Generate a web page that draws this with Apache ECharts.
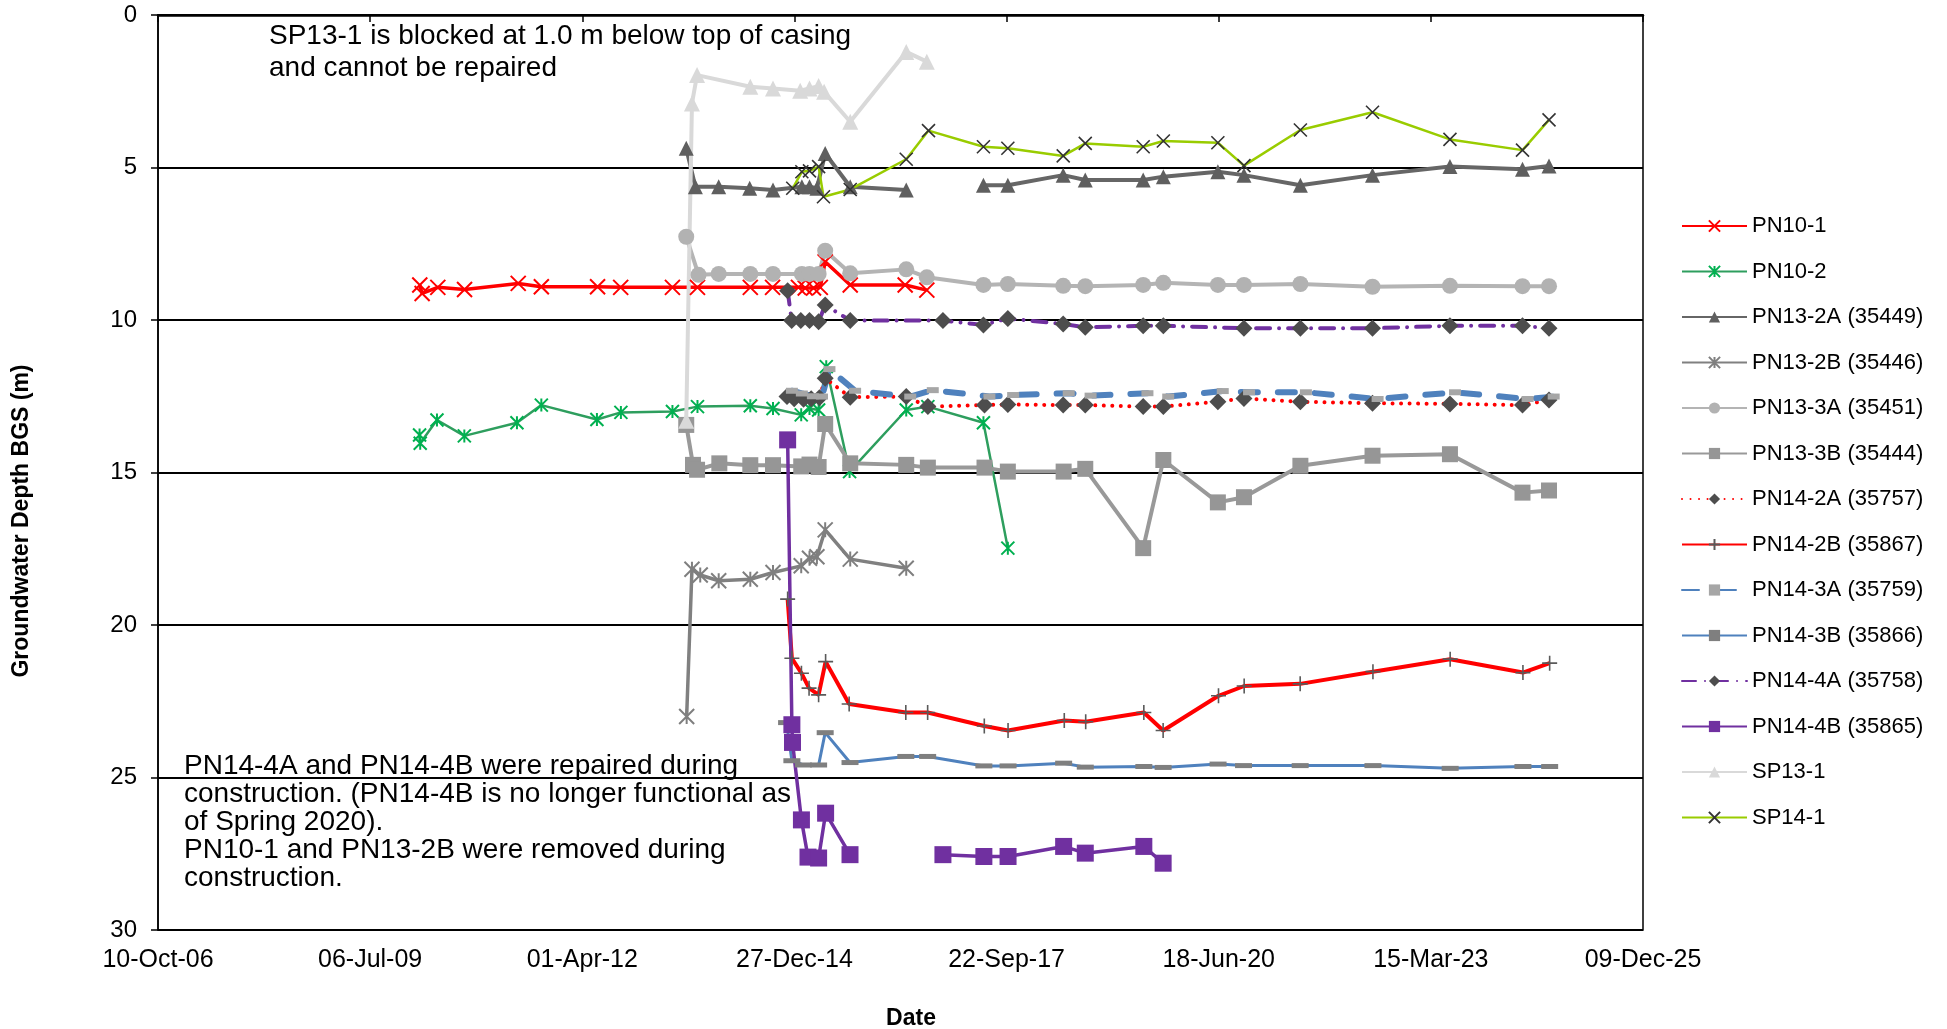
<!DOCTYPE html>
<html><head><meta charset="utf-8">
<script src="https://cdn.jsdelivr.net/npm/echarts@6/dist/echarts.min.js"></script>
<style>html,body{margin:0;padding:0;background:#fff}#c{width:1947px;height:1029px}</style>
</head><body><div id="c"></div>
<script>
// Dates are Excel day serials (days since 30-Dec-1899); depths in m below ground surface
const xTickMin = 39000, xTickMax = 46000, xTickStep = 1000;
const yTickMin = 0, yTickMax = 30, yTickStep = 5;

const pn10_1_dates = [40234, 40245, 40319, 40445, 40698, 40807, 41072, 41181, 41425, 41543, 41792, 41897, 42019, 42051, 42090, 42122, 42145, 42263, 42522, 42624];
const pn10_1_depth = [8.85, 9.13, 8.93, 9.0, 8.80, 8.91, 8.91, 8.93, 8.93, 8.93, 8.93, 8.93, 8.93, 8.95, 8.95, 8.93, 8.09, 8.85, 8.85, 9.02];

const pn10_2_dates = [40233, 40236, 40315, 40444, 40692, 40807, 41069, 41182, 41425, 41543, 41792, 41899, 42032, 42071, 42114, 42150, 42260, 42527, 42629, 42891, 43006];
const pn10_2_depth = [13.77, 14.04, 13.28, 13.80, 13.37, 12.79, 13.26, 13.03, 13.00, 12.84, 12.81, 12.90, 13.11, 12.90, 12.95, 11.53, 14.97, 12.95, 12.84, 13.37, 17.48];

const pn13_2a_dates = [41490, 41533, 41643, 41789, 41899, 42035, 42071, 42106, 42145, 42263, 42527, 42629, 42891, 43006, 43267, 43371, 43644, 43739, 43996, 44119, 44385, 44725, 45090, 45432, 45557];
const pn13_2a_depth = [4.37, 5.63, 5.63, 5.68, 5.74, 5.63, 5.63, 5.68, 4.54, 5.63, 5.74, null, 5.58, 5.58, 5.25, 5.41, 5.41, 5.30, 5.14, 5.25, 5.58, 5.25, 4.97, 5.06, 4.95];

const pn13_2b_dates = [41492, 41517, 41556, 41643, 41792, 41899, 42032, 42071, 42106, 42145, 42263, 42527];
const pn13_2b_depth = [23.0, 18.17, 18.36, 18.55, 18.50, 18.28, 18.06, 17.81, 17.76, 16.88, 17.84, 18.14];

const pn13_3a_dates = [41490, 41548, 41643, 41792, 41899, 42035, 42071, 42114, 42145, 42263, 42527, 42624, 42891, 43006, 43267, 43371, 43644, 43739, 43996, 44119, 44385, 44725, 45090, 45432, 45557];
const pn13_3a_depth = [7.27, 8.52, 8.49, 8.49, 8.49, 8.49, 8.49, 8.49, 7.73, 8.47, 8.34, 8.60, 8.85, 8.82, 8.88, 8.89, 8.85, 8.78, 8.85, 8.85, 8.82, 8.91, 8.88, 8.89, 8.89];

const pn13_3b_dates = [41490, 41522, 41541, 41646, 41792, 41899, 42032, 42071, 42114, 42145, 42263, 42527, 42629, 42896, 43006, 43269, 43371, 43644, 43739, 43996, 44119, 44385, 44725, 45090, 45432, 45557];
const pn13_3b_depth = [13.44, 14.75, 14.91, 14.70, 14.76, 14.76, 14.80, 14.74, 14.82, 13.41, 14.70, 14.75, 14.84, 14.84, 14.97, 14.97, 14.88, 17.48, 14.59, 15.98, 15.81, 14.78, 14.45, 14.40, 15.66, 15.59];

const pn14_2a_dates = [41965, 41999, 42043, 42079, 42118, 42145, 42263, 42527, 42629, 42896, 43006, 43267, 43371, 43644, 43739, 43996, 44119, 44385, 44725, 45090, 45432, 45557];
const pn14_2a_depth = [12.51, 12.58, 12.60, 12.58, 12.55, 11.91, 12.53, 12.51, 12.84, 12.79, 12.77, 12.79, 12.79, 12.84, 12.84, 12.68, 12.57, 12.68, 12.73, 12.75, 12.79, 12.62];

const pn14_2b_dates = [41968, 41988, 42033, 42069, 42114, 42147, 42258, 42525, 42628, 42895, 43007, 43272, 43373, 43647, 43738, 43999, 44120, 44384, 44727, 45091, 45434, 45560];
const pn14_2b_depth = [19.15, 21.09, 21.58, 22.07, 22.29, 21.20, 22.59, 22.87, 22.87, 23.31, 23.46, 23.13, 23.17, 22.87, 23.46, 22.32, 22.00, 21.93, 21.53, 21.12, 21.56, 21.25];

const pn14_3a_dates = [41988, 42035, 42087, 42130, 42165, 42286, 42546, 42652, 42919, 43031, 43293, 43396, 43664, 43762, 44019, 44143, 44411, 44749, 45114, 45456, 45579];
const pn14_3a_depth = [12.32, 12.41, 12.50, 12.51, 11.61, 12.32, 12.51, 12.30, 12.51, 12.46, 12.40, 12.48, 12.40, 12.51, 12.33, 12.37, 12.37, 12.59, 12.37, 12.59, 12.51];

const pn14_3b_dates = [41963, 41988, 42042, 42114, 42145, 42262, 42525, 42628, 42893, 43007, 43269, 43371, 43647, 43738, 43997, 44117, 44384, 44727, 45091, 45434, 45560];
const pn14_3b_depth = [23.20, 24.45, 24.59, 24.59, 23.53, 24.51, 24.31, 24.31, 24.62, 24.62, 24.53, 24.66, 24.64, 24.67, 24.56, 24.61, 24.61, 24.61, 24.70, 24.64, 24.64];

const pn14_4a_dates = [41968, 41987, 42030, 42071, 42114, 42145, 42263, 42700, 42891, 43006, 43267, 43371, 43644, 43739, 44119, 44385, 44725, 45090, 45432, 45557];
const pn14_4a_depth = [9.04, 10.02, 10.02, 10.02, 10.06, 9.51, 10.02, 10.02, 10.16, 9.95, 10.13, 10.24, 10.19, 10.19, 10.27, 10.27, 10.27, 10.19, 10.19, 10.27];

const pn14_4b_dates = [41968, 41988, 41991, 42033, 42064, 42114, 42147, 42262, 42500, 42700, 42893, 43007, 43269, 43371, 43647, 43738];
const pn14_4b_depth = [13.93, 23.27, 23.85, 26.39, 27.61, 27.64, 26.17, 27.53, null, 27.53, 27.59, 27.59, 27.26, 27.48, 27.26, 27.81];

const sp13_1_dates = [41490, 41517, 41541, 41792, 41899, 42027, 42071, 42114, 42140, 42263, 42527, 42624];
const sp13_1_depth = [13.30, 2.90, 1.97, 2.35, 2.41, 2.48, 2.41, 2.33, 2.52, 3.50, 1.21, 1.53];

const sp14_1_dates = [41992, 42035, 42071, 42114, 42137, 42263, 42527, 42632, 42891, 43006, 43267, 43371, 43644, 43739, 43996, 44119, 44385, 44725, 45090, 45432, 45557];
const sp14_1_depth = [5.68, 5.14, 5.11, 4.97, 5.96, 5.72, 4.73, 3.79, 4.32, 4.37, 4.62, 4.21, 4.32, 4.13, 4.19, 4.94, 3.77, 3.19, 4.08, 4.43, 3.44];

const yTitle = 'Groundwater Depth BGS (m)';
const xTitle = 'Date';
const note1 = 'SP13-1 is blocked at 1.0 m below top of casing\nand cannot be repaired';
const note2 = 'PN14-4A and PN14-4B were repaired during\nconstruction. (PN14-4B is no longer functional as\nof Spring 2020).\nPN10-1 and PN13-2B were removed during\nconstruction.';

const FONT = '"Liberation Sans", Arial, sans-serif';
const X_PATH = 'path://M0,0L10,10M10,0L0,10';
const STAR_PATH = 'path://M5,0L5,10M0,0L10,10M10,0L0,10';
const PLUS_PATH = 'path://M5,0L5,10M0,5L10,5';
const MON = ['Jan','Feb','Mar','Apr','May','Jun','Jul','Aug','Sep','Oct','Nov','Dec'];
function fmtDate(v) {
  const d = new Date(Date.UTC(1899, 11, 30) + v * 864e5);
  return String(d.getUTCDate()).padStart(2, '0') + '-' + MON[d.getUTCMonth()] + '-' + String(d.getUTCFullYear()).slice(-2);
}
function pts(dates, depths) {
  return dates.map((d, i) => [d, depths[i] == null ? '-' : depths[i]]);
}
function mk(name, dates, depths, line, sym) {
  return Object.assign({
    name: name, type: 'line', data: pts(dates, depths),
    connectNulls: false, animation: false, showSymbol: true,
    lineStyle: line, emphasis: { disabled: true }
  }, sym);
}

const series = [
  mk('PN10-1', pn10_1_dates, pn10_1_depth, { color: '#ff0000', width: 3.5 },
     { symbol: X_PATH, symbolSize: 15, itemStyle: { color: '#ff0000', borderColor: '#ff0000', borderWidth: 2 } }),
  mk('PN10-2', pn10_2_dates, pn10_2_depth, { color: '#2e9e5e', width: 2.5 },
     { symbol: STAR_PATH, symbolSize: 13, itemStyle: { color: '#00b050', borderColor: '#00b050', borderWidth: 2 } }),
  mk('PN13-2A (35449)', pn13_2a_dates, pn13_2a_depth, { color: '#666666', width: 4 },
     { symbol: 'triangle', symbolSize: 15, itemStyle: { color: '#5f5f5f' } }),
  mk('PN13-2B (35446)', pn13_2b_dates, pn13_2b_depth, { color: '#808080', width: 3.5 },
     { symbol: STAR_PATH, symbolSize: 15, itemStyle: { color: '#7f7f7f', borderColor: '#7f7f7f', borderWidth: 2 } }),
  mk('PN13-3A (35451)', pn13_3a_dates, pn13_3a_depth, { color: '#b4b4b4', width: 4 },
     { symbol: 'circle', symbolSize: 16, itemStyle: { color: '#b2b2b2' } }),
  mk('PN13-3B (35444)', pn13_3b_dates, pn13_3b_depth, { color: '#999999', width: 4 },
     { symbol: 'rect', symbolSize: 16, itemStyle: { color: '#969696' } }),
  mk('PN14-2A (35757)', pn14_2a_dates, pn14_2a_depth, { color: '#ff0000', width: 4, type: [0.01, 8.5], cap: 'round' },
     { symbol: 'diamond', symbolSize: 17, itemStyle: { color: '#4d4d4d' } }),
  mk('PN14-2B (35867)', pn14_2b_dates, pn14_2b_depth, { color: '#ff0000', width: 4 },
     { symbol: PLUS_PATH, symbolSize: 15, itemStyle: { color: '#5a5a5a', borderColor: '#5a5a5a', borderWidth: 1.6 } }),
  mk('PN14-3A (35759)', pn14_3a_dates, pn14_3a_depth, { color: '#4f81bd', width: 6, type: [17, 20], cap: 'round' },
     { symbol: 'rect', symbolSize: [12, 6], itemStyle: { color: '#a6a6a6' } }),
  mk('PN14-3B (35866)', pn14_3b_dates, pn14_3b_depth, { color: '#4f81bd', width: 3 },
     { symbol: 'rect', symbolSize: [17, 5], itemStyle: { color: '#7f7f7f' } }),
  mk('PN14-4A (35758)', pn14_4a_dates, pn14_4a_depth, { color: '#7030a0', width: 4, type: [14, 9, 0.01, 9], cap: 'round' },
     { symbol: 'diamond', symbolSize: 17, itemStyle: { color: '#4d4d4d' } }),
  mk('PN14-4B (35865)', pn14_4b_dates, pn14_4b_depth, { color: '#7030a0', width: 3.5 },
     { symbol: 'rect', symbolSize: 17, itemStyle: { color: '#7030a0' } }),
  mk('SP13-1', sp13_1_dates, sp13_1_depth, { color: '#d9d9d9', width: 4 },
     { symbol: 'triangle', symbolSize: 16, itemStyle: { color: '#d9d9d9' } }),
  mk('SP14-1', sp14_1_dates, sp14_1_depth, { color: '#99cc00', width: 2.5 },
     { symbol: X_PATH, symbolSize: 13, itemStyle: { color: '#333333', borderColor: '#333333', borderWidth: 1.6 } })
];

const chart = echarts.init(document.getElementById('c'), null, { renderer: 'canvas' });
chart.setOption({
  backgroundColor: '#ffffff',
  animation: false,
  textStyle: { fontFamily: FONT },
  grid: { left: 158, right: 304, top: 15, bottom: 99, show: true, borderColor: '#000', borderWidth: 1.5,
          outerBoundsMode: 'none' },
  legend: {
    orient: 'vertical', left: 1676, top: 210,
    itemWidth: 65, itemHeight: 14, itemGap: 23.5,
    textStyle: { fontSize: 22, color: '#000', fontFamily: FONT, lineHeight: 22 },
    data: series.map(s => s.name)
  },
  xAxis: {
    type: 'value', min: xTickMin, max: xTickMax, interval: xTickStep,
    axisLine: { show: true, lineStyle: { color: '#000', width: 2.5 } },
    axisTick: { show: true, length: 7, lineStyle: { color: '#000', width: 1.5 } },
    axisLabel: { formatter: fmtDate, fontSize: 25, color: '#000', margin: 18, fontFamily: FONT },
    splitLine: { show: false }
  },
  yAxis: {
    type: 'value', inverse: true, min: yTickMin, max: yTickMax, interval: yTickStep,
    axisLine: { show: true, lineStyle: { color: '#000', width: 1.5 } },
    axisTick: { show: true, length: 7, lineStyle: { color: '#000', width: 1.5 } },
    axisLabel: { fontSize: 24, color: '#000', margin: 21, fontFamily: FONT },
    splitLine: { show: true, lineStyle: { color: '#000', width: 2 } }
  },
  graphic: [
    { type: 'text', x: 22, y: 521, rotation: Math.PI / 2, z: 100,
      style: { text: yTitle, fontSize: 23, fontWeight: 'bold', fill: '#000', fontFamily: FONT, align: 'center', verticalAlign: 'middle' } },
    { type: 'text', x: 911, y: 1019, z: 100,
      style: { text: xTitle, fontSize: 23, fontWeight: 'bold', fill: '#000', fontFamily: FONT, align: 'center', verticalAlign: 'middle' } },
    { type: 'text', left: 269, top: 20, z: 100,
      style: { text: note1, fontSize: 28, lineHeight: 32, fill: '#000', fontFamily: FONT } },
    { type: 'text', left: 184, top: 752, z: 100,
      style: { text: note2, fontSize: 28, lineHeight: 28, fill: '#000', fontFamily: FONT } }
  ],
  series: series
});
</script></body></html>
